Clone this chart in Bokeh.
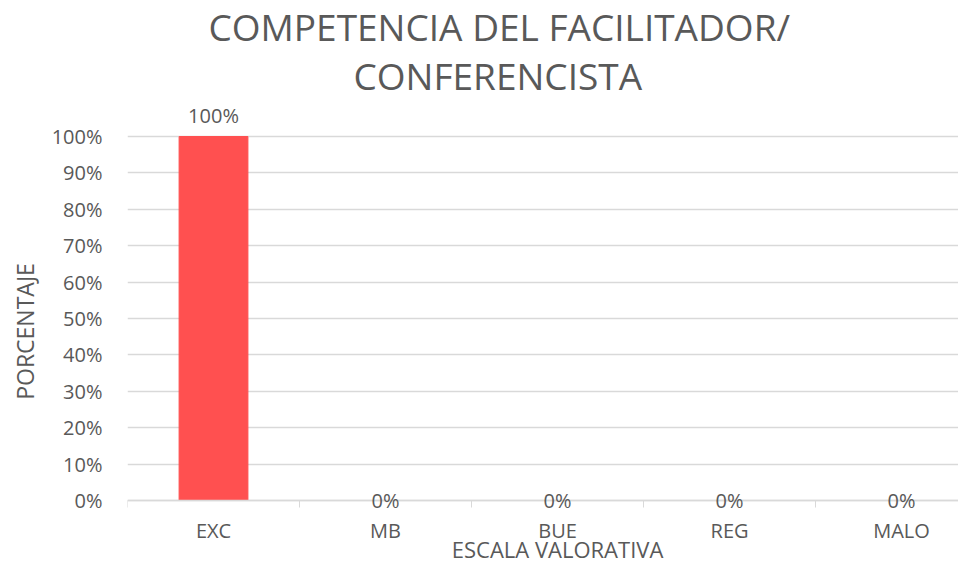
from bokeh.plotting import figure
from bokeh.models import Range1d, FixedTicker, Label, Title
from bokeh.embed import file_html
from bokeh.resources import INLINE

categories = ["EXC", "MB", "BUE", "REG", "MALO"]
values = [1.00, 0.00, 0.00, 0.00, 0.00]
y_ticks = [0, 0.1, 0.2, 0.3, 0.4, 0.5, 0.6, 0.7, 0.8, 0.9, 1.0]
y_tick_labels = ["0%", "10%", "20%", "30%", "40%", "50%", "60%", "70%", "80%", "90%", "100%"]
title_lines = ["COMPETENCIA DEL FACILITADOR/", "CONFERENCISTA"]
x_title = "ESCALA VALORATIVA"
y_title = "PORCENTAJE"

FONT = "Open Sans"
TXT = "#595959"
GRID = "#d9d9d9"

xs = [i + 0.5 for i in range(len(categories))]

p = figure(width=958, height=564, output_backend="svg", toolbar_location=None,
           x_range=Range1d(0, 4.831), y_range=Range1d(-0.1758, 1.1044))
p.min_border_left = 127
p.min_border_right = 0
p.min_border_top = 98
p.min_border_bottom = 0
p.outline_line_color = None
p.background_fill_color = "white"
p.border_fill_color = "white"

p.vbar(x=xs, top=values, width=0.4, bottom=0, color="#FF5050")

# data labels
for x, v in zip(xs, values):
    p.add_layout(Label(x=x, y=v, text="{:.0f}%".format(v * 100),
                       y_offset=(21 if v > 0 else 0),
                       text_align="center", text_baseline="middle",
                       text_font=FONT, text_font_size="20px", text_color=TXT))

# x axis title centred under the categories
p.add_layout(Label(x=len(categories) / 2, y=0, y_offset=-48, text=x_title,
                   text_align="center", text_baseline="middle",
                   text_font=FONT, text_font_size="22px", text_color=TXT))

# title: inner line first (closest to the frame), then the outer line
p.add_layout(Title(text=title_lines[1], align="left", offset=226, text_font=FONT,
                   text_font_size="37px", text_font_style="normal",
                   vertical_align="top", text_color=TXT, standoff=-8), "above")
p.add_layout(Title(text=title_lines[0], align="left", offset=81, text_font=FONT,
                   text_font_size="37px", text_font_style="normal",
                   vertical_align="top", text_color=TXT, standoff=0), "above")

# x axis, drawn at y = 0
p.xaxis.fixed_location = 0
p.xaxis.ticker = FixedTicker(ticks=xs, minor_ticks=list(range(len(categories) + 1)))
p.xaxis.major_label_overrides = {x: c for x, c in zip(xs, categories)}
p.xaxis.major_tick_line_color = None
p.xaxis.major_tick_out = 7
p.xaxis.minor_tick_line_color = GRID
p.xaxis.minor_tick_out = 7
p.xaxis.minor_tick_in = 0
p.xaxis.minor_tick_line_width = 1
p.xaxis.axis_line_color = GRID
p.xaxis.axis_line_width = 1.5
p.xaxis.major_label_standoff = 9
p.xaxis.major_label_text_font = FONT
p.xaxis.major_label_text_font_size = "20px"
p.xaxis.major_label_text_color = TXT
p.xgrid.grid_line_color = None

# y axis
p.yaxis.ticker = FixedTicker(ticks=y_ticks)
p.yaxis.major_label_overrides = {v: l for v, l in zip(y_ticks, y_tick_labels)}
p.yaxis.axis_line_color = None
p.yaxis.major_tick_line_color = None
p.yaxis.minor_tick_line_color = None
p.yaxis.major_label_standoff = 19
p.yaxis.major_label_text_font = FONT
p.yaxis.major_label_text_font_size = "20px"
p.yaxis.major_label_text_color = TXT
p.yaxis.axis_label = y_title
p.yaxis.axis_label_text_font = FONT
p.yaxis.axis_label_text_font_size = "23px"
p.yaxis.axis_label_text_font_style = "normal"
p.yaxis.axis_label_text_color = TXT
p.yaxis.axis_label_standoff = 8
p.ygrid.grid_line_color = GRID
p.ygrid.grid_line_width = 1.5

open("out.html", "w").write(file_html(p, INLINE))
